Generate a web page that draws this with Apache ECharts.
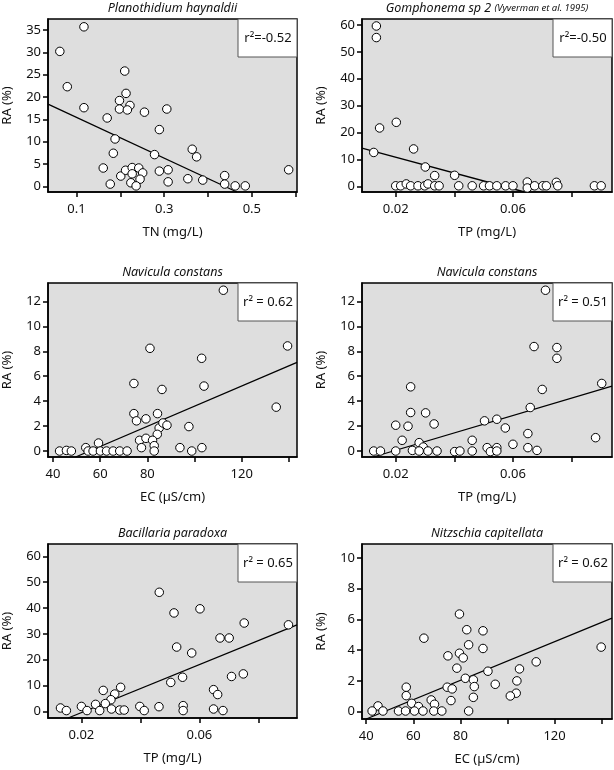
<!DOCTYPE html>
<html>
<head>
<meta charset="utf-8">
<script src="https://cdn.jsdelivr.net/npm/echarts@6/dist/echarts.min.js"></script>
<style>
  html, body { margin: 0; padding: 0; background: #fff; }
  #chart { width: 614px; height: 770px; }
</style>
</head>
<body>
<div id="chart"></div>
<script>
// ---- data: [x, RA %] ----
const haynaldiiTN = [
  [0.062, 30.2], [0.117, 35.7], [0.079, 22.3], [0.117, 17.6], [0.210, 25.8], [0.213, 20.8],
  [0.198, 19.2], [0.198, 17.3], [0.222, 18.1], [0.216, 17.1], [0.170, 15.3], [0.255, 16.6],
  [0.306, 17.3], [0.289, 12.7], [0.188, 10.6], [0.184, 7.4], [0.278, 7.1], [0.364, 8.3],
  [0.374, 6.6], [0.161, 4.1], [0.201, 2.3], [0.212, 3.6], [0.227, 4.2], [0.227, 2.8],
  [0.242, 4.1], [0.251, 3.0], [0.245, 1.6], [0.224, 0.8], [0.236, 0.1], [0.177, 0.5],
  [0.289, 3.4], [0.309, 3.7], [0.309, 1.0], [0.354, 1.7], [0.388, 1.4], [0.438, 2.4],
  [0.438, 0.5], [0.462, 0.1], [0.485, 0.1], [0.584, 3.7]
];
const gomphonemaTP = [
  [0.0134, 59.6], [0.0134, 55.3], [0.0145, 21.7], [0.0125, 12.6], [0.0202, 23.8], [0.0261, 13.9],
  [0.0301, 7.2], [0.0333, 4.0], [0.0401, 4.1], [0.0200, 0.2], [0.0217, 0.2], [0.0236, 0.9],
  [0.0251, 0.2], [0.0276, 0.2], [0.0299, 0.2], [0.0310, 0.9], [0.0333, 0.2], [0.0348, 0.2],
  [0.0415, 0.2], [0.0461, 0.2], [0.0500, 0.2], [0.0520, 0.2], [0.0545, 0.2], [0.0575, 0.2],
  [0.0600, 0.2], [0.0649, 1.6], [0.0649, -0.6], [0.0674, 0.2], [0.0702, 0.2], [0.0714, 0.2],
  [0.0748, 1.5], [0.0753, 0.2], [0.0878, 0.2], [0.0901, 0.2]
];
const constansEC = [
  [112.2, 12.9], [139.4, 8.43], [81.1, 8.24], [103.0, 7.44], [104.0, 5.21], [74.3, 5.42],
  [86.2, 4.94], [134.6, 3.52], [74.3, 3.0], [75.4, 2.42], [79.4, 2.58], [84.3, 3.0],
  [85.0, 1.85], [84.2, 1.34], [86.6, 2.25], [88.3, 2.07], [97.6, 1.96], [76.7, 0.86],
  [79.4, 1.02], [82.2, 0.86], [77.5, 0.27], [82.9, 0.43], [82.9, 0.0], [93.8, 0.27],
  [98.8, 0.0], [103.1, 0.27], [59.3, 0.64], [53.9, 0.27], [42.8, 0.0], [45.7, 0.05],
  [47.8, 0.0], [54.9, 0.0], [57.0, 0.0], [60.1, 0.0], [62.7, 0.0], [65.5, 0.0],
  [68.3, 0.0], [71.4, 0.0]
];
const constansTP = [
  [0.0711, 12.9], [0.0672, 8.38], [0.0750, 8.30], [0.0750, 7.44], [0.0903, 5.42], [0.0700, 4.94],
  [0.0659, 3.49], [0.0251, 5.15], [0.0251, 3.09], [0.0302, 3.06], [0.0331, 2.17], [0.0200, 2.07],
  [0.0242, 1.99], [0.0503, 2.42], [0.0545, 2.55], [0.0574, 1.85], [0.0651, 1.40], [0.0882, 1.07],
  [0.0222, 0.86], [0.0280, 0.67], [0.0461, 0.86], [0.0600, 0.54], [0.0294, 0.32], [0.0512, 0.27],
  [0.0545, 0.27], [0.0651, 0.27], [0.0125, 0.0], [0.0148, 0.0], [0.0200, 0.0], [0.0257, 0.05],
  [0.0280, 0.0], [0.0310, 0.0], [0.0341, 0.0], [0.0401, -0.05], [0.0419, 0.0], [0.0461, 0.0],
  [0.0523, -0.05], [0.0545, 0.0], [0.0682, 0.05]
];
const bacillariaTP = [
  [0.0464, 46.1], [0.0514, 38.1], [0.0602, 39.7], [0.0752, 34.2], [0.0902, 33.5], [0.0670, 28.4],
  [0.0701, 28.4], [0.0523, 24.9], [0.0574, 22.6], [0.0709, 13.5], [0.0749, 14.5], [0.0543, 13.2],
  [0.0503, 11.2], [0.0648, 8.4], [0.0662, 6.5], [0.0333, 9.3], [0.0274, 8.1], [0.0313, 6.7],
  [0.0300, 4.5], [0.0281, 3.0], [0.0248, 2.7], [0.0200, 1.9], [0.0398, 1.9], [0.0463, 1.8],
  [0.0545, 2.2], [0.0129, 1.3], [0.0149, 0.3], [0.0219, 0.3], [0.0262, 0.3], [0.0302, 0.9],
  [0.0330, 0.5], [0.0345, 0.5], [0.0413, 0.3], [0.0545, 0.3], [0.0648, 0.9], [0.0680, 0.3]
];
const capitellataEC = [
  [79.6, 6.35], [82.7, 5.33], [89.6, 5.26], [64.5, 4.78], [83.5, 4.35], [89.6, 4.11],
  [139.8, 4.20], [79.6, 3.80], [74.7, 3.63], [81.2, 3.50], [112.2, 3.24], [105.1, 2.78],
  [91.7, 2.63], [78.5, 2.83], [82.1, 2.17], [85.5, 2.07], [104.0, 2.0], [85.9, 1.63],
  [94.8, 1.78], [74.4, 1.59], [76.5, 1.48], [57.0, 1.59], [57.0, 1.04], [103.7, 1.20],
  [101.2, 1.02], [85.5, 0.93], [76.0, 0.72], [67.6, 0.76], [59.3, 0.54], [69.0, 0.48],
  [62.2, 0.33], [45.0, 0.37], [42.5, 0.04], [47.1, 0.04], [53.7, 0.04], [56.7, 0.04],
  [60.5, 0.04], [64.1, 0.04], [68.7, 0.04], [72.1, 0.04], [83.5, 0.04]
];

// fitted lines (end points)
const fitHaynaldii = [[0.035, 18.4], [0.466, -1.27]];
const fitGomphonema = [[0.0085, 14.2], [0.064, -2.1]];
const fitConstansEC = [[49.6, -0.48], [143.4, 7.11]];
const fitConstansTP = [[0.0123, -0.48], [0.0938, 5.21]];
const fitBacillaria = [[0.0155, -2.58], [0.0931, 33.5]];
const fitCapitellata = [[40.0, -0.48], [144.4, 6.09]];

const r2Labels = ['r²=-0.52', 'r²=-0.50', 'r² = 0.62', 'r² = 0.51', 'r² = 0.65', 'r² = 0.62'];

// ticks
const tnTicks = [0.1, 0.2, 0.3, 0.4, 0.5, 0.6];
const tnLabels = [0.1, 0.3, 0.5];
const tpTicks = [0.02, 0.04, 0.06, 0.08];
const tpLabels = [0.02, 0.06];
const ecTicks = [40, 60, 80, 100, 120, 140];
const ecLabels = [40, 60, 80, 120];
const raTicks35 = [0, 5, 10, 15, 20, 25, 30, 35];
const raTicks60 = [0, 10, 20, 30, 40, 50, 60];
const raTicks12 = [0, 2, 4, 6, 8, 10, 12];
const raTicks10 = [0, 2, 4, 6, 8, 10];

const FONT = 'Noto Sans';

const panels = [
  { title: 'Planothidium haynaldii', xName: 'TN (mg/L)', pts: haynaldiiTN, fit: fitHaynaldii,
    box: [48, 19, 249, 173], x: [0.035, 0.603], y: [-1.27, 37.45],
    xt: tnTicks, xl: tnLabels, yt: raTicks35 },
  { title: '{a|Gomphonema sp 2} {b|(Vyverman et al. 1995)}', xName: 'TP (mg/L)', pts: gomphonemaTP, fit: fitGomphonema,
    box: [362, 19, 250, 173], x: [0.0085, 0.0938], y: [-2.1, 62.2],
    xt: tpTicks, xl: tpLabels, yt: raTicks60 },
  { title: 'Navicula constans', xName: 'EC (µS/cm)', pts: constansEC, fit: fitConstansEC,
    box: [48, 283, 249, 174], x: [37.9, 143.4], y: [-0.48, 13.48],
    xt: ecTicks, xl: ecLabels, yt: raTicks12 },
  { title: 'Navicula constans', xName: 'TP (mg/L)', pts: constansTP, fit: fitConstansTP,
    box: [362, 283, 250, 174], x: [0.0085, 0.0938], y: [-0.48, 13.48],
    xt: tpTicks, xl: tpLabels, yt: raTicks12 },
  { title: 'Bacillaria paradoxa', xName: 'TP (mg/L)', pts: bacillariaTP, fit: fitBacillaria,
    box: [48, 544, 249, 174], x: [0.00867, 0.0931], y: [-2.58, 64.8],
    xt: tpTicks, xl: tpLabels, yt: raTicks60 },
  { title: 'Nitzschia capitellata', xName: 'EC (µS/cm)', pts: capitellataEC, fit: fitCapitellata,
    box: [362, 544, 250, 175], x: [38.2, 144.4], y: [-0.48, 10.91],
    xt: ecTicks, xl: ecLabels, yt: raTicks10 }
];

const grid = [], xAxis = [], yAxis = [], series = [], graphic = [];

panels.forEach((p, i) => {
  const [l, t, w, h] = p.box;
  grid.push({
    left: l, top: t, width: w, height: h,
    show: true, backgroundColor: '#dedede', borderColor: '#000', borderWidth: 1.5
  });
  xAxis.push({
    type: 'value', gridIndex: i, min: p.x[0], max: p.x[1],
    name: p.xName, nameLocation: 'middle', nameGap: 34,
    nameTextStyle: { fontFamily: FONT, fontSize: 13, color: '#111' },
    axisLine: { show: true, onZero: false, lineStyle: { color: '#000', width: 1.5 } },
    axisTick: { show: true, length: 5, customValues: p.xt, lineStyle: { color: '#000', width: 1.5 } },
    axisLabel: { customValues: p.xl, margin: 11, fontFamily: FONT, fontSize: 13, color: '#111',
      formatter: v => String(v) },
    splitLine: { show: false }
  });
  yAxis.push({
    type: 'value', gridIndex: i, min: p.y[0], max: p.y[1],
    name: 'RA (%)', nameLocation: 'middle', nameGap: 34,
    nameTextStyle: { fontFamily: FONT, fontSize: 13, color: '#111' },
    axisLine: { show: true, onZero: false, lineStyle: { color: '#000', width: 1.5 } },
    axisTick: { show: true, length: 5, customValues: p.yt, lineStyle: { color: '#000', width: 1.5 } },
    axisLabel: { customValues: p.yt, margin: 7, fontFamily: FONT, fontSize: 13, color: '#111',
      formatter: v => String(v) },
    splitLine: { show: false }
  });
  series.push({
    type: 'line', xAxisIndex: i, yAxisIndex: i, data: p.fit,
    symbol: 'none', clip: true, silent: true,
    lineStyle: { color: '#000', width: 1.3 }, z: 2
  });
  series.push({
    type: 'scatter', xAxisIndex: i, yAxisIndex: i, data: p.pts,
    symbol: 'circle', symbolSize: 8.5, clip: false,
    itemStyle: { color: '#fff', borderColor: '#000', borderWidth: 1, opacity: 1 }, z: 3
  });
  // panel title, centred over its plot
  graphic.push({
    type: 'text', x: l + w / 2, y: t - 17,
    style: {
      text: p.title, textAlign: 'center',
      fontFamily: FONT, fontSize: 12.5, fontStyle: 'italic', fill: '#111',
      rich: {
        a: { fontFamily: FONT, fontSize: 12.5, fontStyle: 'italic', fill: '#111' },
        b: { fontFamily: FONT, fontSize: 9.5, fontStyle: 'italic', fill: '#111' }
      }
    }
  });
  // r² box
  graphic.push({
    type: 'group', x: l + w - 59, y: t, z: 10,
    children: [
      { type: 'rect', shape: { x: 0, y: 0, width: 59, height: 38 },
        style: { fill: '#fff', stroke: '#555', lineWidth: 1 } },
      { type: 'text', x: 30, y: 19,
        style: { text: r2Labels[i], textAlign: 'center', textVerticalAlign: 'middle',
          fontFamily: FONT, fontSize: 13, fill: '#111' } }
    ]
  });
});

const chart = echarts.init(document.getElementById('chart'), null, { renderer: 'canvas' });
chart.setOption({
  animation: false,
  backgroundColor: '#fff',
  grid, xAxis, yAxis, series, graphic
});
</script>
</body>
</html>
